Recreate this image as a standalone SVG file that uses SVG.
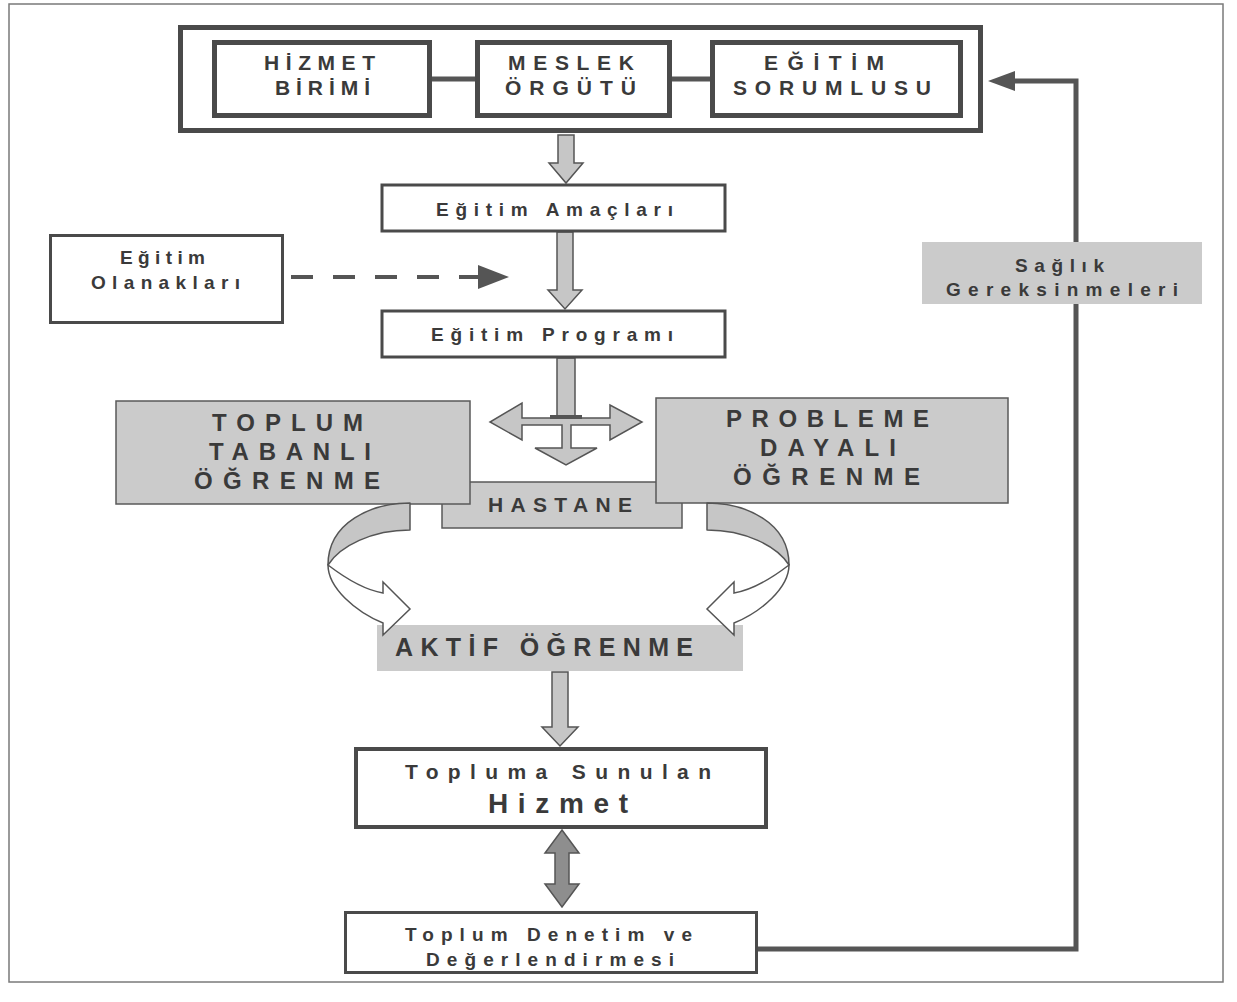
<svg xmlns="http://www.w3.org/2000/svg" width="1237" height="1002" viewBox="0 0 1237 1002">
<style>
.t{font-family:"Liberation Sans",Arial,sans-serif;font-weight:bold;fill:#3a3a3a}
.box{fill:#fff;stroke:#4a4a4a}
.gbox{fill:#cbcbcb;stroke:#5a5a5a;stroke-width:1.5}
.blk{fill:#c6c6c6;stroke:#555;stroke-width:1.5;stroke-linejoin:miter}
.line{fill:none;stroke:#555;stroke-width:5}
</style>
<rect x="0" y="0" width="1237" height="1002" fill="#fff"/>
<rect x="9" y="4" width="1214" height="978" fill="none" stroke="#7a7a7a" stroke-width="1.5"/>

<g id="connectors">
  <line class="line" x1="432" y1="79" x2="475" y2="79"/>
  <line class="line" x1="672" y1="79" x2="710" y2="79"/>
  <polyline class="line" points="758,949 1076,949 1076,81 1012,81"/>
  <polygon points="988,81 1015,71 1015,91" fill="#555"/>
  <line x1="291" y1="277" x2="478" y2="277" stroke="#555" stroke-width="4" stroke-dasharray="22 20"/>
  <polygon points="478,265 509,277 478,289" fill="#555"/>
  <polygon class="blk" points="558,135 574,135 574,163 583,163 566,183 549,163 558,163"/>
  <polygon class="blk" points="557,232 573,232 573,290 582,290 565,309 548,290 557,290"/>
  <polygon class="blk" points="557,358 575,358 575,418 610,418 610,405 642,422 610,440 610,425 571,425 571,448 597,448 566,465 535,448 562,448 562,425 522,425 522,440 490,422 522,403 522,418 557,418"/>
  <rect x="550" y="415" width="32" height="4" fill="#555"/>
  <polygon class="blk" points="552,672 568,672 568,727 578,727 560,746 542,727 552,727"/>
  <polygon points="562,830 579,853 569,853 569,884 579,884 562,907 545,884 555,884 555,853 545,853" fill="#8e8e8e" stroke="#555" stroke-width="1.5"/>
</g>

<g id="top-group">
  <rect x="180.5" y="27.5" width="800" height="103" fill="none" stroke="#4a4a4a" stroke-width="5"/>
</g>
<g id="hizmet-birimi">
  <rect class="box" x="214.5" y="42.5" width="215" height="73" stroke-width="5"/>
  <text class="t" font-size="21" x="264" y="70" textLength="111" lengthAdjust="spacing">HİZMET</text>
  <text class="t" font-size="21" x="275" y="95" textLength="95" lengthAdjust="spacing">BİRİMİ</text>
</g>
<g id="meslek-orgutu">
  <rect class="box" x="477.5" y="42.5" width="192" height="73" stroke-width="5"/>
  <text class="t" font-size="21" x="508" y="70" textLength="126" lengthAdjust="spacing">MESLEK</text>
  <text class="t" font-size="21" x="505" y="95" textLength="131" lengthAdjust="spacing">ÖRGÜTÜ</text>
</g>
<g id="egitim-sorumlusu">
  <rect class="box" x="712.5" y="42.5" width="248" height="73" stroke-width="5"/>
  <text class="t" font-size="21" x="764" y="70" textLength="120" lengthAdjust="spacing">EĞİTİM</text>
  <text class="t" font-size="21" x="733" y="95" textLength="198" lengthAdjust="spacing">SORUMLUSU</text>
</g>

<g id="egitim-amaclari">
  <rect class="box" x="382" y="185" width="343" height="46" stroke-width="3"/>
  <text class="t" font-size="19" x="436" y="216" textLength="237" lengthAdjust="spacing">Eğitim Amaçları</text>
</g>
<g id="egitim-olanaklari">
  <rect class="box" x="50.5" y="235.5" width="232" height="87" stroke-width="3"/>
  <text class="t" font-size="19" x="120" y="264" textLength="85" lengthAdjust="spacing">Eğitim</text>
  <text class="t" font-size="19" x="91" y="289" textLength="149" lengthAdjust="spacing">Olanakları</text>
</g>
<g id="egitim-programi">
  <rect class="box" x="382" y="311" width="343" height="46" stroke-width="3"/>
  <text class="t" font-size="19" x="431" y="341" textLength="242" lengthAdjust="spacing">Eğitim Programı</text>
</g>

<g id="saglik-gereksinmeleri">
  <rect x="922" y="242" width="280" height="62" fill="#cbcbcb"/>
  <text class="t" font-size="19" x="1015" y="272" textLength="89" lengthAdjust="spacing">Sağlık</text>
  <text class="t" font-size="19" x="946" y="296" textLength="232" lengthAdjust="spacing">Gereksinmeleri</text>
</g>

<g id="hastane">
  <rect class="gbox" x="442" y="482" width="240" height="46"/>
  <text class="t" font-size="21" x="488" y="512" textLength="144" lengthAdjust="spacing">HASTANE</text>
</g>
<g id="toplum-tabanli">
  <rect class="gbox" x="116" y="401" width="354" height="103"/>
  <text class="t" font-size="24" x="212" y="431" textLength="151" lengthAdjust="spacing">TOPLUM</text>
  <text class="t" font-size="24" x="209" y="460" textLength="162" lengthAdjust="spacing">TABANLI</text>
  <text class="t" font-size="24" x="194" y="489" textLength="186" lengthAdjust="spacing">ÖĞRENME</text>
</g>
<g id="probleme-dayali">
  <rect class="gbox" x="656" y="398" width="352" height="105"/>
  <text class="t" font-size="24" x="726" y="427" textLength="203" lengthAdjust="spacing">PROBLEME</text>
  <text class="t" font-size="24" x="760" y="456" textLength="136" lengthAdjust="spacing">DAYALI</text>
  <text class="t" font-size="24" x="733" y="485" textLength="187" lengthAdjust="spacing">ÖĞRENME</text>
</g>

<g id="aktif-ogrenme">
  <rect x="377" y="625" width="366" height="46" fill="#cbcbcb"/>
  <text class="t" font-size="25" x="395" y="656" textLength="298" lengthAdjust="spacing">AKTİF ÖĞRENME</text>
</g>

<g id="ribbon-left">
  <path d="M410,503 C372,503 328,522 328,565 C340,546 372,530 410,530 Z" fill="#c6c6c6" stroke="#555" stroke-width="1.5" stroke-linejoin="round"/>
  <path d="M328,565 C345,578 365,590 383,593 L383,582 L410,609 L383,635 L383,623 C356,612 328,588 328,565 Z" fill="#fff" stroke="#555" stroke-width="1.5" stroke-linejoin="miter"/>
</g>
<g id="ribbon-right" transform="translate(1117,0) scale(-1,1)">
  <path d="M410,503 C372,503 328,522 328,565 C340,546 372,530 410,530 Z" fill="#c6c6c6" stroke="#555" stroke-width="1.5" stroke-linejoin="round"/>
  <path d="M328,565 C345,578 365,590 383,593 L383,582 L410,609 L383,635 L383,623 C356,612 328,588 328,565 Z" fill="#fff" stroke="#555" stroke-width="1.5" stroke-linejoin="miter"/>
</g>

<g id="topluma-sunulan-hizmet">
  <rect class="box" x="356" y="749" width="410" height="78" stroke-width="4"/>
  <text class="t" font-size="21" x="405" y="779" textLength="306" lengthAdjust="spacing">Topluma Sunulan</text>
  <text class="t" font-size="28" x="488" y="813" textLength="140" lengthAdjust="spacing">Hizmet</text>
</g>
<g id="toplum-denetim">
  <rect class="box" x="345.5" y="912.5" width="411" height="60" stroke-width="3"/>
  <text class="t" font-size="19" x="405" y="941" textLength="287" lengthAdjust="spacing">Toplum Denetim ve</text>
  <text class="t" font-size="19" x="426" y="966" textLength="248" lengthAdjust="spacing">Değerlendirmesi</text>
</g>
</svg>
